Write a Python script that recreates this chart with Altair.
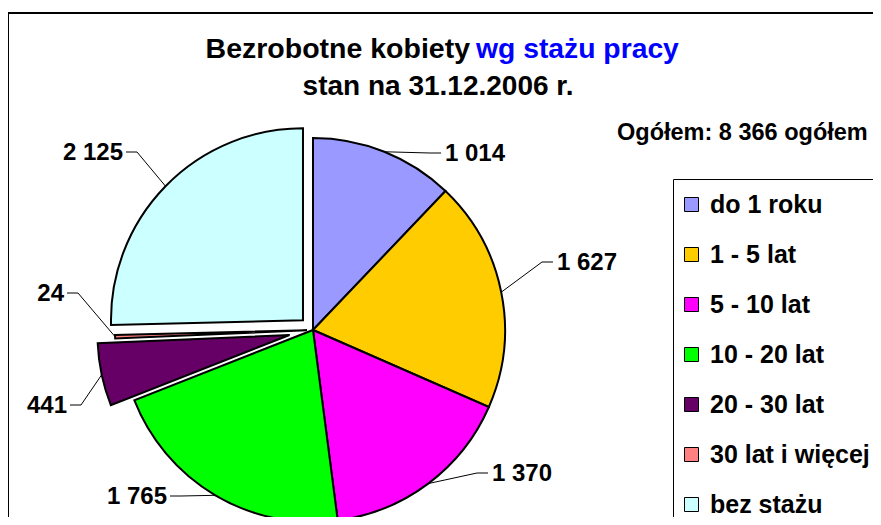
import altair as alt
import pandas as pd

# ---- data ----
categories = ["do 1 roku", "1 - 5 lat", "5 - 10 lat", "10 - 20 lat",
              "20 - 30 lat", "30 lat i więcej", "bez stażu"]
values = [1014, 1627, 1370, 1765, 441, 24, 2125]
value_labels = [f"{v:,}".replace(",", " ") for v in values]
total = sum(values)

title_black = "Bezrobotne kobiety"
title_blue = "wg stażu pracy"
title_line2 = "stan na 31.12.2006 r."
total_text = f"Ogółem: {total:,} ogółem".replace(",", " ")

# ---- styles / layout ----
colors = ["#9999FF", "#FFCC00", "#FF00FF", "#00FF00", "#660066", "#FF8080", "#CCFFFF"]
explode_px = [0, 0, 0, 0, 24, 6, 14]
# label anchor (end of leader line) relative to pie centre, and side of text
label_rel_x = [128, 240, 175, -143, -243, -246, -187]
label_rel_y = [-177, -68, 143, 166, 75, -37, -178]
label_side = ["R", "R", "R", "L", "L", "L", "L"]

W, H = 865, 504
CX, CY, R = 305, 317, 192
FONT = "Liberation Sans"

df = pd.DataFrame({
    "cat": categories, "value": values, "idx": list(range(len(values))),
    "label": value_labels, "explode": explode_px,
    "lrx": label_rel_x, "lry": label_rel_y, "side": label_side,
})

base = alt.Chart(df).transform_window(
    cum="sum(value)", sort=[{"field": "idx"}], frame=[None, 0]
).transform_joinaggregate(
    total="sum(value)"
).transform_calculate(
    mid="(datum.cum - datum.value/2)/datum.total*2*PI"
).transform_calculate(
    ox=f"{CX} + datum.explode*sin(datum.mid)",
    oy=f"{CY} - datum.explode*cos(datum.mid)",
).transform_calculate(
    ex=f"datum.ox + {R}*sin(datum.mid)",
    ey=f"datum.oy - {R}*cos(datum.mid)",
    ax=f"{CX} + datum.lrx",
    ay=f"{CY} + datum.lry",
).transform_calculate(
    bx="datum.ax + (datum.side == 'R' ? -11 : 11)",
    tx="datum.ax + (datum.side == 'R' ? 4 : -3)",
    ty="datum.ay + 1",
)

arcs = base.mark_arc(radius=R, stroke="black", strokeWidth=2).encode(
    theta=alt.Theta("value:Q", stack=True),
    order=alt.Order("idx:Q"),
    color=alt.Color("cat:N", scale=alt.Scale(domain=categories, range=colors),
                    legend=alt.Legend(
                        title=None, orient="none", legendX=665, legendY=166,
                        strokeColor="black", fillColor="white", padding=13,
                        symbolType="square", symbolSize=196, symbolOffset=-7,
                        symbolStrokeColor="black", symbolStrokeWidth=1,
                        labelFont=FONT, labelFontSize=25, labelFontWeight="bold",
                        labelColor="black", rowPadding=24, labelOffset=6,
                        labelLimit=400)),
    x=alt.X("ox:Q", scale=None, axis=None),
    y=alt.Y("oy:Q", scale=None, axis=None),
)

lead1 = base.mark_rule(color="black", strokeWidth=1).encode(
    x=alt.X("ex:Q", scale=None, axis=None), y=alt.Y("ey:Q", scale=None, axis=None),
    x2="bx:Q", y2="ay:Q")
lead2 = base.mark_rule(color="black", strokeWidth=1).encode(
    x=alt.X("bx:Q", scale=None, axis=None), y=alt.Y("ay:Q", scale=None, axis=None),
    x2="ax:Q", y2="ay:Q")

txt_kw = dict(baseline="middle", font=FONT, fontSize=24, fontWeight="bold", color="black")
labels_r = base.mark_text(align="left", **txt_kw).encode(
    x=alt.X("tx:Q", scale=None, axis=None), y=alt.Y("ty:Q", scale=None, axis=None),
    text="label:N").transform_filter("datum.side == 'R'")
labels_l = base.mark_text(align="right", **txt_kw).encode(
    x=alt.X("tx:Q", scale=None, axis=None), y=alt.Y("ty:Q", scale=None, axis=None),
    text="label:N").transform_filter("datum.side == 'L'")

def note(text, x, y, align, size, color="black"):
    return alt.Chart(pd.DataFrame({"t": [text]})).mark_text(
        align=align, baseline="alphabetic", font=FONT, fontSize=size,
        fontWeight="bold", color=color
    ).encode(x=alt.value(x), y=alt.value(y), text="t:N")

t1 = note(title_black, 462, 44.5, "right", 28.5)
t2 = note(title_blue, 468, 44.5, "left", 28.3, "#0000FF")
t3 = note(title_line2, 430, 82, "center", 28)
t4 = note(total_text, 609, 127, "left", 23.5)

frame_top = alt.Chart(pd.DataFrame({"a": [0]})).mark_rule(color="black", strokeWidth=2).encode(
    x=alt.value(-1), x2=alt.value(W), y=alt.value(0))
frame_left = alt.Chart(pd.DataFrame({"a": [0]})).mark_rule(color="black", strokeWidth=2).encode(
    x=alt.value(0), y=alt.value(0), y2=alt.value(H))

chart = alt.layer(frame_top, frame_left, arcs, lead1, lead2, labels_r, labels_l,
                  t1, t2, t3, t4).properties(
    width=W, height=H,
    autosize=alt.AutoSizeParams(type="none"),
    padding={"left": 0, "top": 5, "right": 0, "bottom": 0},
).configure_view(strokeWidth=0)

chart.save("out.html", embed_options={"renderer": "svg", "actions": False})
